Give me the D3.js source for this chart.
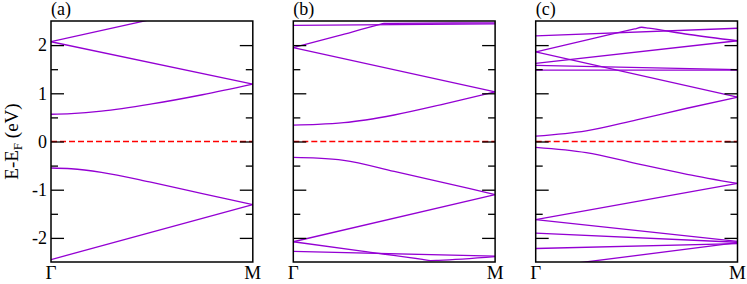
<!DOCTYPE html>
<html>
<head>
<meta charset="utf-8">
<script src="https://cdn.jsdelivr.net/npm/d3@7/dist/d3.min.js"></script>
<style>
  html, body { margin: 0; padding: 0; background: #fff; }
  svg { display: block; }
</style>
</head>
<body>
<svg id="chart" width="747" height="284"></svg>
<script>
// ---- data (k: fraction of path from Γ to M, E in eV) ----
const panelLabels = ["(a)", "(b)", "(c)"];
const kLabels = ["Γ", "M"];
const yTicks = [-2, -1, 0, 1, 2];
const yMinorTicks = [-1.5, -0.5, 0.5, 1.5];
const yDomain = [-2.5, 2.5];
const fermiLevel = 0;

const bandsA = [
  [[0, -2.45], [1, -1.31]],
  [[0, -0.55], [0.1, -0.565], [0.25, -0.64], [0.5, -0.85], [0.75, -1.08], [1, -1.31]],
  [[0, 0.565], [0.1, 0.58], [0.25, 0.63], [0.5, 0.78], [0.75, 0.97], [1, 1.19]],
  [[0, 2.07], [1, 1.19]],
  [[0, 2.07], [1, 3.0]]
];
const bandsB = [
  [[0, -2.08], [1, -1.10]],
  [[0, -0.33], [0.12, -0.345], [0.25, -0.39], [0.5, -0.62], [0.75, -0.86], [1, -1.10]],
  [[0, 0.34], [0.12, 0.355], [0.25, 0.39], [0.5, 0.55], [0.75, 0.78], [1, 1.03]],
  [[0, 1.95], [1, 1.03]],
  [[0, 1.95], [0.22, 2.19], [0.42, 2.42], [0.45, 2.45], [0.48, 2.452], [1, 2.46]],
  [[0, 2.41], [1, 2.44]],
  [[0, -2.08], [0.34, -2.275], [0.64, -2.445], [0.68, -2.47], [0.72, -2.465], [1, -2.39]],
  [[0, -2.28], [1, -2.38]]
];
const bandsC = [
  [[0, -0.12], [0.25, -0.23], [0.5, -0.46], [0.75, -0.68], [1, -0.87]],
  [[0, 0.11], [0.25, 0.22], [0.5, 0.45], [0.75, 0.69], [1, 0.92]],
  [[0, -1.62], [1, -0.87]],
  [[0, -1.62], [1, -2.07]],
  [[0, -1.90], [1, -2.09]],
  [[0, -2.22], [1, -2.12]],
  [[0, -2.63], [1, -2.10]],
  [[0, 1.86], [1, 0.92]],
  [[0, 1.86], [0.26, 2.115], [0.49, 2.335], [0.525, 2.37], [0.56, 2.35], [0.76, 2.22], [1, 2.09]],
  [[0, 2.19], [1, 2.35]],
  [[0, 1.62], [1, 2.09]],
  [[0, 1.58], [1, 1.49]],
  [[0, 1.48], [1, 1.48]]
];
const panels = [bandsA, bandsB, bandsC];

// ---- layout ----
const serif = "'Liberation Serif', 'DejaVu Serif', Times, serif";
const svg = d3.select("#chart").attr("font-family", serif);
const panelLeft = [51, 293.3, 535.7];
const panelW = 201.8;
const plotTop = 21, plotBottom = 262;
const bandColor = "#9400d3";

const y = d3.scaleLinear().domain(yDomain).range([plotBottom, plotTop]);

panels.forEach((bands, i) => {
  const x0 = panelLeft[i];
  const x = d3.scaleLinear().domain([0, 1]).range([x0, x0 + panelW]);
  const g = svg.append("g");

  const clipId = "clip" + i;
  svg.append("clipPath").attr("id", clipId)
    .append("rect").attr("x", x0).attr("y", plotTop).attr("width", panelW).attr("height", plotBottom - plotTop);

  // Fermi level
  g.append("line")
    .attr("x1", x(0)).attr("x2", x(1))
    .attr("y1", y(fermiLevel)).attr("y2", y(fermiLevel))
    .style("stroke", "#ff0000").style("stroke-width", "1.4px")
    .style("stroke-dasharray", "6,3");

  // bands
  const line = d3.line().x(d => x(d[0])).y(d => y(d[1])).curve(d3.curveMonotoneX);
  g.append("g").attr("clip-path", `url(#${clipId})`)
    .selectAll("path").data(bands).join("path")
    .attr("d", line)
    .attr("fill", "none")
    .attr("stroke", bandColor)
    .attr("stroke-width", 1.3);

  // ticks inward on left and right
  const axL = d3.axisRight(y).tickValues(yTicks).tickSize(13).tickFormat("");
  const axLm = d3.axisRight(y).tickValues(yMinorTicks).tickSize(7).tickFormat("");
  const axR = d3.axisLeft(y).tickValues(yTicks).tickSize(13).tickFormat("");
  const axRm = d3.axisLeft(y).tickValues(yMinorTicks).tickSize(7).tickFormat("");
  [[axL, x0], [axLm, x0], [axR, x0 + panelW], [axRm, x0 + panelW]].forEach(([ax, tx]) => {
    const a = g.append("g").attr("transform", `translate(${tx},0)`).call(ax);
    a.select(".domain").remove();
    a.selectAll("line").attr("stroke", "#000").attr("stroke-width", 1.3);
  });

  // frame
  g.append("rect")
    .attr("x", x0).attr("y", plotTop).attr("width", panelW).attr("height", plotBottom - plotTop)
    .attr("fill", "none").attr("stroke", "#000").attr("stroke-width", 1.5);

  // panel label
  g.append("text").attr("x", x0).attr("y", 15)
    .attr("font-family", serif).attr("font-size", 18).text(panelLabels[i]);

  // k labels
  g.selectAll("text.k").data(kLabels).join("text").attr("class", "k")
    .attr("x", (d, j) => x(j)).attr("y", 279)
    .attr("font-family", serif)
    .attr("text-anchor", "middle").attr("font-size", 19).text(d => d);

  // y tick labels only on the first panel
  if (i === 0) {
    g.selectAll("text.yt").data(yTicks).join("text").attr("class", "yt")
      .attr("x", x0 - 4).attr("y", d => y(d)).attr("dy", "0.35em")
      .attr("font-family", serif)
      .attr("text-anchor", "end").attr("font-size", 18).text(d => String(d));

    const t = g.append("text")
      .attr("transform", `translate(18,${(plotTop + plotBottom) / 2}) rotate(-90)`)
      .attr("font-family", serif)
      .attr("text-anchor", "middle").attr("font-size", 19);
    t.append("tspan").text("E-E");
    t.append("tspan").attr("font-size", 13).attr("dy", 4).text("F");
    t.append("tspan").attr("dy", -4).text(" (eV)");
  }
});
</script>
</body>
</html>
